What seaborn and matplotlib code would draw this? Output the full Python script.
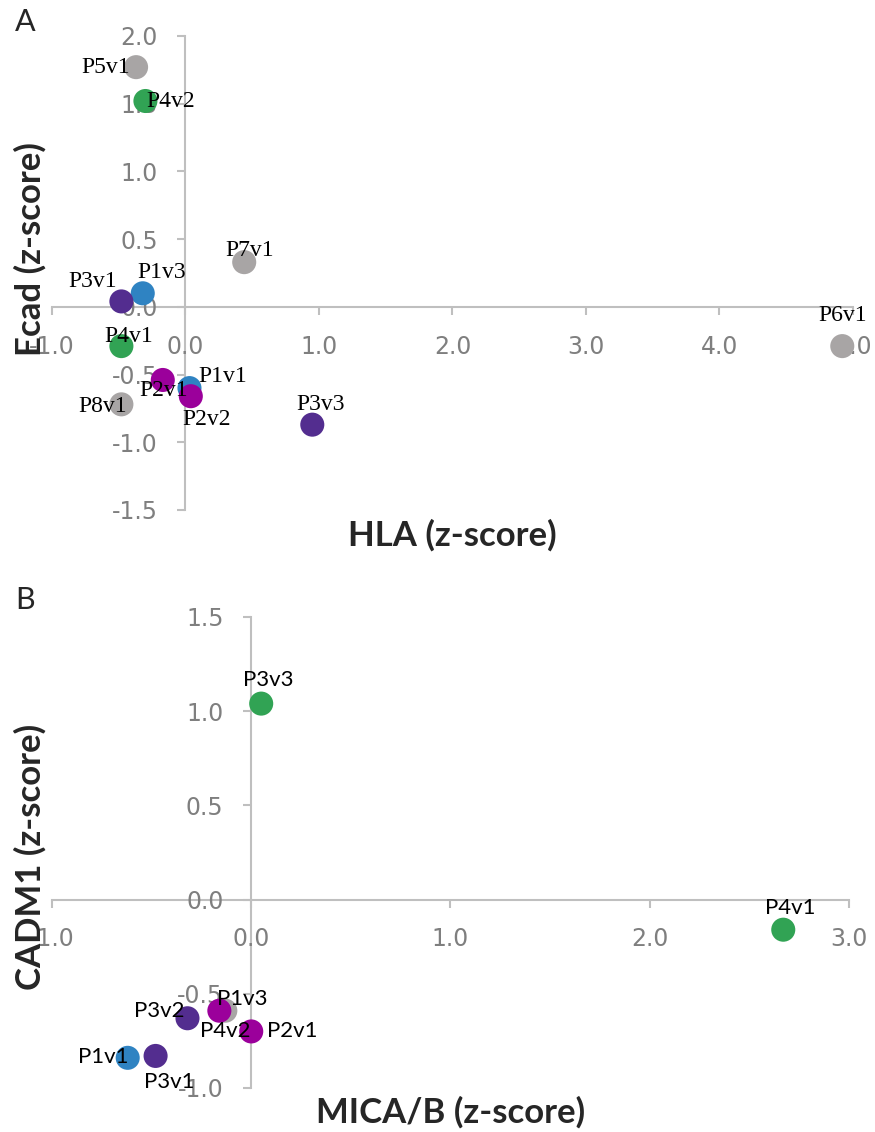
import matplotlib
matplotlib.use("Agg")
import matplotlib.pyplot as plt
import seaborn as sns
import pandas as pd

# panel A: HLA vs Ecad
a_names = ["P5v1", "P4v2", "P7v1", "P1v3", "P3v1", "P4v1",
           "P2v1", "P1v1", "P2v2", "P8v1", "P3v3", "P6v1"]
a_hla = [-0.37, -0.30, 0.44, -0.32, -0.48, -0.48,
         -0.17, 0.03, 0.04, -0.48, 0.95, 4.92]
a_ecad = [1.77, 1.52, 0.33, 0.10, 0.04, -0.29,
          -0.54, -0.60, -0.66, -0.72, -0.87, -0.29]
a_group = ["gray", "green", "gray", "blue", "purple", "green",
           "magenta", "blue", "magenta", "gray", "purple", "gray"]

# panel B: MICA/B vs CADM1
b_names = ["P3v3", "P4v1", "P1v3", "P4v2", "P3v2", "P2v1", "P1v1", "P3v1"]
b_mica = [0.05, 2.67, -0.13, -0.16, -0.32, 0.00, -0.62, -0.48]
b_cadm1 = [1.04, -0.16, -0.59, -0.59, -0.63, -0.70, -0.84, -0.83]
b_group = ["green", "green", "gray", "magenta", "purple", "magenta", "blue", "purple"]

palette = {"gray": "#A8A5A5", "green": "#31A354", "blue": "#2F83C2",
           "purple": "#532D8F", "magenta": "#9B009B"}

# label offsets in pixels (dx right, dy up)
a_offsets = {"P5v1": (-30, 0), "P4v2": (25, -1), "P7v1": (5, 12), "P1v3": (19, 21),
             "P3v1": (-29, 20), "P4v1": (7, 10), "P2v1": (1, -11), "P1v1": (33, 12),
             "P2v2": (16, -23), "P8v1": (-19, -2), "P3v3": (8, 20), "P6v1": (0, 31)}
b_offsets = {"P3v3": (7, 24), "P4v1": (7, 22), "P1v3": (17, 12), "P4v2": (6, -20),
             "P3v2": (-28, 7), "P2v1": (41, 0), "P1v1": (-24, 1), "P3v1": (14, -26)}

sns.set_style("white")
plt.rcParams["font.family"] = ["DejaVu Sans"]

fig = plt.figure(figsize=(8.75, 11.32), dpi=100)
ax_a = fig.add_axes([0.0594, 0.5495, 0.9154, 0.4187])
ax_b = fig.add_axes([0.0594, 0.0389, 0.9109, 0.4161])

axis_grey = "#BFBFBF"
tick_grey = "#7F7F7F"


def style_axes(ax, xlim, ylim, xticks, yticks):
    ax.set_xlim(*xlim)
    ax.set_ylim(*ylim)
    ax.spines["left"].set_position(("data", 0))
    ax.spines["bottom"].set_position(("data", 0))
    ax.spines["top"].set_visible(False)
    ax.spines["right"].set_visible(False)
    for s in ["left", "bottom"]:
        ax.spines[s].set_color(axis_grey)
        ax.spines[s].set_linewidth(1.5)
        ax.spines[s].set_zorder(0)
    ax.set_xticks(xticks)
    ax.set_yticks(yticks)
    ax.set_xticklabels([f"{t:.1f}" for t in xticks])
    ax.set_yticklabels([f"{t:.1f}" for t in yticks])
    ax.tick_params(axis="both", direction="out", length=6, width=1.5,
                   color=axis_grey, labelcolor=tick_grey, labelsize=17,
                   bottom=True, left=True)
    ax.tick_params(axis="x", pad=14)
    ax.tick_params(axis="y", pad=14)
    ax.grid(False)


def place_labels(ax, xlabel, ylabel, xpos, ypos):
    ax.set_xlabel(xlabel, fontsize=25, fontweight="bold", family="Lato",
                  va="center", ha="center")
    ax.set_ylabel(ylabel, fontsize=25, fontweight="bold", family="Lato",
                  va="center", ha="center")
    ax.xaxis.set_label_coords(*xpos)
    ax.yaxis.set_label_coords(*ypos)


df_a = pd.DataFrame({"name": a_names, "x": a_hla, "y": a_ecad, "group": a_group})
sns.scatterplot(data=df_a, x="x", y="y", hue="group", palette=palette, s=300,
                edgecolor="none", legend=False, ax=ax_a, zorder=3, clip_on=False)
style_axes(ax_a, (-1, 5), (-1.5, 2.0), [-1, 0, 1, 2, 3, 4, 5],
           [-1.5, -1.0, -0.5, 0.0, 0.5, 1.0, 1.5, 2.0])
for n, x, y in zip(a_names, a_hla, a_ecad):
    ax_a.annotate(n, (x, y), xytext=a_offsets[n], textcoords="offset pixels",
                  ha="center", va="center", fontsize=17, family="Liberation Serif",
                  color="black", zorder=4)
place_labels(ax_a, "HLA (z-score)", "Ecad (z-score)", (0.5, -0.053), (-0.027, 0.55))

df_b = pd.DataFrame({"name": b_names, "x": b_mica, "y": b_cadm1, "group": b_group})
sns.scatterplot(data=df_b, x="x", y="y", hue="group", palette=palette, s=300,
                edgecolor="none", legend=False, ax=ax_b, zorder=3, clip_on=False)
style_axes(ax_b, (-1, 3), (-1.0, 1.5), [-1, 0, 1, 2, 3],
           [-1.0, -0.5, 0.0, 0.5, 1.0, 1.5])
for n, x, y in zip(b_names, b_mica, b_cadm1):
    ax_b.annotate(n, (x, y), xytext=b_offsets[n], textcoords="offset pixels",
                  ha="center", va="center", fontsize=16, family="Lato",
                  color="black", zorder=4)
place_labels(ax_b, "MICA/B (z-score)", "CADM1 (z-score)", (0.5, -0.051), (-0.027, 0.49))

fig.text(0.029, 0.981, "A", fontsize=22, family="Lato", va="center", ha="center")
fig.text(0.029, 0.470, "B", fontsize=22, family="Lato", va="center", ha="center")

fig.savefig("out.png", dpi=100)
plt.close(fig)
